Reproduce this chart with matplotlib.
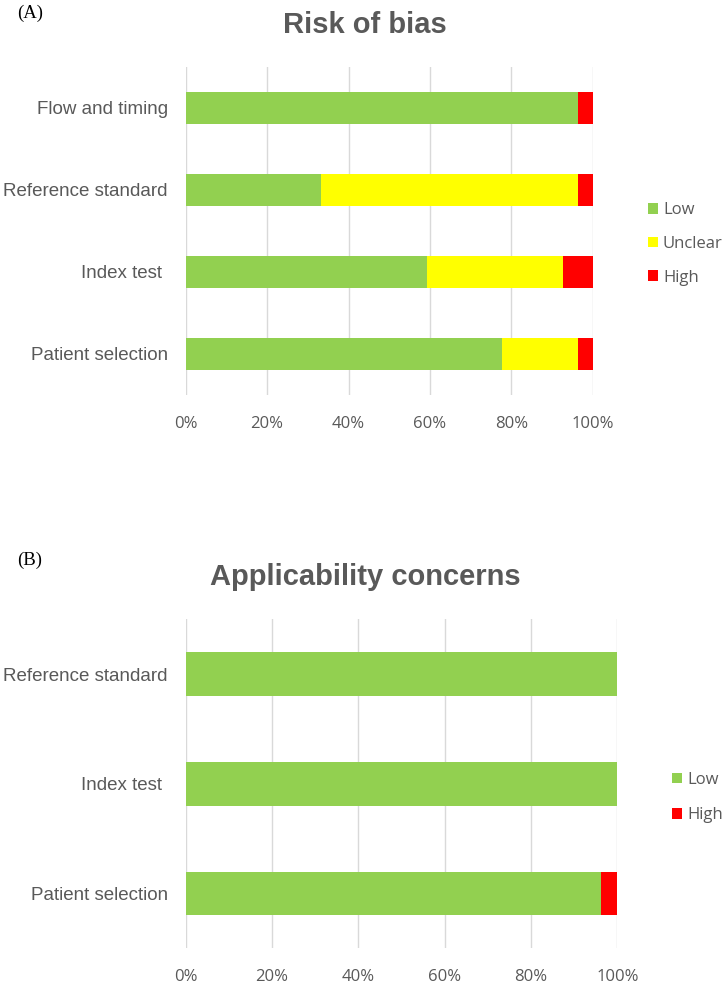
import matplotlib
matplotlib.use('Agg')
import matplotlib.pyplot as plt

# Panel A - risk of bias (% of studies), bottom to top
bias_domains = ['Patient selection', 'Index test ', 'Reference standard', 'Flow and timing']
bias_low = [77.8, 59.3, 33.3, 96.3]
bias_unclear = [18.5, 33.3, 63.0, 0.0]
bias_high = [3.7, 7.4, 3.7, 3.7]

# Panel B - applicability concerns (% of studies), bottom to top
appl_domains = ['Patient selection', 'Index test ', 'Reference standard']
appl_low = [96.3, 100.0, 100.0]
appl_high = [3.7, 0.0, 0.0]

x_ticks = [0, 20, 40, 60, 80, 100]

GREEN = '#92D050'
YELLOW = '#FFFF00'
RED = '#FF0000'
GREY = '#595959'
W, H = 722, 985


def style_axes(ax, n_cats):
    ax.set_xlim(0, 100)
    ax.set_ylim(-0.5, n_cats - 0.5)
    ax.set_xticks(x_ticks)
    ax.set_xticklabels([f'{v}%' for v in x_ticks], family='Open Sans', fontsize=12, color=GREY)
    for lab in ax.get_yticklabels():
        lab.set_family('Liberation Sans')
        lab.set_fontsize(13.5)
        lab.set_color(GREY)
    ax.tick_params(length=0)
    ax.tick_params(axis='x', pad=15)
    ax.tick_params(axis='y', pad=13)
    for s in ax.spines.values():
        s.set_visible(False)
    ax.grid(axis='x', color='#D9D9D9', lw=1.0)
    ax.set_axisbelow(True)


fig = plt.figure(figsize=(W / 100, H / 100), dpi=100)

# Panel A
ax1 = fig.add_axes([185.7 / W, 1 - 395 / H, (592.7 - 185.7) / W, 328 / H])
h = 0.39
b1 = ax1.barh(bias_domains, bias_low, height=h, color=GREEN, label='Low')
left = bias_low
b2 = ax1.barh(bias_domains, bias_unclear, height=h, left=left, color=YELLOW, label='Unclear')
left = [a + b for a, b in zip(bias_low, bias_unclear)]
b3 = ax1.barh(bias_domains, bias_high, height=h, left=left, color=RED, label='High')
style_axes(ax1, len(bias_domains))
ax1.legend(handles=[b1, b2, b3], loc='center left', bbox_to_anchor=(648 / W, 1 - 244 / H),
           bbox_transform=fig.transFigure, frameon=False, borderpad=0, borderaxespad=0,
           handlelength=0.6, handleheight=0.6, handletextpad=0.3, labelspacing=1.05,
           prop={'family': 'Open Sans', 'size': 12}, labelcolor=GREY)

# Panel B
ax2 = fig.add_axes([185.7 / W, 1 - 948.3 / H, (617.3 - 185.7) / W, 329 / H])
h = 0.4
c1 = ax2.barh(appl_domains, appl_low, height=h, color=GREEN, label='Low')
c2 = ax2.barh(appl_domains, appl_high, height=h, left=appl_low, color=RED, label='High')
style_axes(ax2, len(appl_domains))
ax2.legend(handles=[c1, c2], loc='center left', bbox_to_anchor=(672 / W, 1 - 797.5 / H),
           bbox_transform=fig.transFigure, frameon=False, borderpad=0, borderaxespad=0,
           handlelength=0.6, handleheight=0.6, handletextpad=0.3, labelspacing=1.15,
           prop={'family': 'Open Sans', 'size': 12}, labelcolor=GREY)

# titles and panel letters
fig.text(364.5 / W, 1 - 25 / H, 'Risk of bias', ha='center', va='center',
         family='Liberation Sans', weight='bold', fontsize=21, color=GREY)
fig.text(365 / W, 1 - 577 / H, 'Applicability concerns', ha='center', va='center',
         family='Liberation Sans', weight='bold', fontsize=21, color=GREY)
fig.text(17 / W, 1 - 13 / H, '(A)', ha='left', va='center', family='Liberation Serif',
         fontsize=13.5, color='black')
fig.text(17 / W, 1 - 560 / H, '(B)', ha='left', va='center', family='Liberation Serif',
         fontsize=13.5, color='black')

fig.savefig('out.png', dpi=100)
